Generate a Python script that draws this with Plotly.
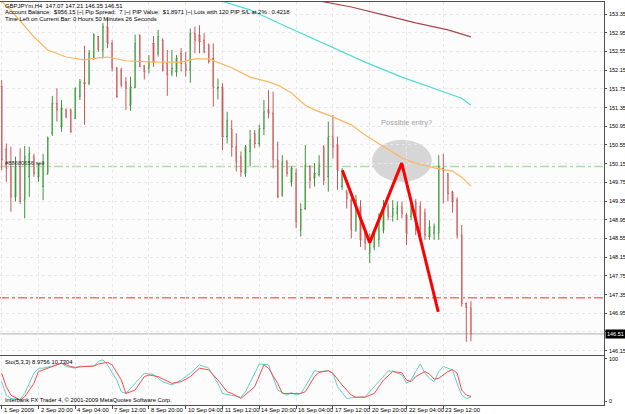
import plotly.graph_objects as go

# ---------------- data ----------------
opens = [151.80, 150.46, 150.09, 149.44, 150.09, 149.37, 149.87, 150.30, 149.87, 149.66,
         149.94, 150.80, 151.44, 150.94, 151.30, 151.30, 151.12, 151.58, 151.87, 151.87,
         152.40, 152.87, 152.58, 153.08, 152.72, 152.19, 152.15, 151.90, 151.40, 151.78,
         152.90, 152.24, 152.19, 152.72, 152.51, 152.79, 152.29, 152.08, 152.12, 152.51,
         152.29, 152.15, 152.94, 152.90, 152.79, 152.69, 152.40, 151.76, 151.78, 150.73,
         150.90, 150.51, 150.30, 149.94, 150.41, 150.80, 150.58, 150.90, 151.30, 151.23,
         150.23, 149.48, 150.19, 149.76, 149.94, 148.73, 149.19, 150.09, 149.84, 149.91,
         150.51, 149.87, 150.73, 150.55, 149.66, 149.55, 149.37, 148.73, 149.23, 148.66,
         148.23, 148.37, 148.52, 148.73, 149.23, 149.02, 149.09, 149.23, 149.05, 149.02,
         149.34, 149.23, 149.09, 148.59, 148.66, 148.66, 150.05, 149.94, 149.55, 149.37,
         148.62, 147.16, 147.07]
highs = [151.94, 150.58, 150.51, 150.30, 150.48, 150.53, 150.51, 150.36, 150.16, 150.36,
         150.73, 151.60, 151.76, 151.51, 151.33, 151.33, 151.78, 151.96, 152.67, 152.58,
         152.94, 152.88, 153.16, 153.26, 152.79, 152.22, 152.20, 152.00, 152.01, 152.91,
         152.91, 152.26, 152.47, 152.88, 153.01, 152.83, 152.58, 152.58, 152.47, 152.62,
         152.54, 153.04, 153.08, 153.11, 152.94, 152.72, 152.72, 151.97, 151.87, 151.26,
         151.08, 150.80, 150.41, 150.55, 150.87, 150.87, 150.98, 151.51, 151.72, 151.69,
         150.62, 150.33, 150.23, 150.09, 150.05, 149.30, 150.55, 150.12, 150.16, 150.33,
         150.55, 151.05, 151.19, 150.73, 150.05, 149.59, 149.41, 149.48, 149.37, 148.73,
         148.66, 148.73, 149.09, 149.37, 149.30, 149.37, 149.34, 149.34, 149.09, 149.37,
         149.39, 149.34, 149.19, 148.94, 148.87, 150.33, 150.36, 149.94, 149.57, 149.43,
         148.84, 147.18, 147.21]
lows = [150.01, 149.76, 149.12, 149.34, 149.29, 148.98, 149.44, 149.87, 149.76, 149.37,
        149.91, 150.74, 151.05, 150.83, 151.12, 150.81, 151.10, 151.51, 150.98, 151.83,
        152.37, 152.54, 152.40, 152.62, 152.12, 151.56, 151.78, 151.30, 151.28, 151.76,
        152.22, 151.95, 152.08, 152.22, 152.44, 152.12, 151.60, 152.02, 152.01, 152.12,
        152.01, 151.88, 152.51, 152.51, 152.51, 152.29, 151.37, 151.52, 150.44, 150.58,
        150.30, 149.98, 149.87, 149.87, 150.09, 150.48, 150.51, 150.76, 151.12, 150.05,
        149.41, 149.44, 149.87, 149.66, 148.77, 148.59, 149.16, 149.62, 149.66, 149.87,
        149.69, 149.55, 150.26, 149.59, 149.59, 149.19, 148.55, 148.69, 148.37, 148.30,
        148.02, 148.30, 148.37, 148.66, 148.94, 148.91, 148.94, 148.98, 148.41, 148.94,
        148.62, 148.45, 148.52, 148.52, 148.52, 148.52, 149.30, 149.34, 149.10, 148.55,
        147.09, 146.34, 146.35]
closes = [150.23, 150.05, 149.44, 150.09, 149.34, 150.30, 150.37, 149.94, 150.12, 150.16,
          150.69, 151.44, 151.30, 151.33, 151.15, 150.83, 151.76, 151.90, 151.87, 152.51,
          152.90, 152.58, 153.08, 152.72, 152.19, 151.58, 151.83, 151.76, 151.78, 152.72,
          152.22, 152.12, 152.33, 152.33, 152.87, 152.15, 152.05, 152.19, 152.40, 152.29,
          152.15, 152.94, 152.79, 152.76, 152.54, 152.33, 151.78, 151.78, 150.73, 151.08,
          150.51, 150.19, 149.98, 150.51, 150.66, 150.58, 150.90, 151.26, 151.23, 150.23,
          149.44, 150.19, 149.94, 150.05, 148.91, 149.17, 150.12, 149.80, 149.94, 150.12,
          149.80, 150.73, 150.51, 150.01, 149.94, 149.41, 148.73, 149.37, 148.52, 148.45,
          148.52, 148.66, 148.94, 149.16, 149.02, 149.19, 149.23, 149.09, 148.66, 149.30,
          148.73, 148.66, 148.62, 148.80, 148.80, 150.09, 150.01, 149.51, 149.34, 148.62,
          147.16, 147.07, 146.51]
bar_idx = list(range(len(opens)))

date_tick_idx = [0, 8, 16, 24, 32, 40, 48, 56, 64, 72, 80, 88, 96]
date_tick_text = ["1 Sep 2009", "2 Sep 20:00", "4 Sep 04:00", "7 Sep 12:00", "8 Sep 20:00",
                  "10 Sep 04:00", "11 Sep 12:00", "14 Sep 20:00", "16 Sep 04:00",
                  "17 Sep 12:00", "20 Sep 20:00", "22 Sep 04:00", "23 Sep 12:00"]
price_ticks = [146.15, 146.95, 147.35, 147.75, 148.15, 148.55, 148.95, 149.35,
               149.75, 150.15, 150.55, 150.95, 151.35, 151.75, 152.15, 152.55, 152.95, 153.35]
price_tick_text = ["146.15", "146.95", "147.35", "147.75", "148.15", "148.55", "148.95",
                   "149.35", "149.75", "150.15", "150.55", "150.95", "151.35", "151.75",
                   "152.15", "152.55", "152.95", "153.35"]
grid_price = [146.55] + price_ticks
sto_ticks = [0, 100]
sto_tick_text = ["0", "100"]

ma_fast_idx = [0, 2, 7, 10, 14, 18, 21, 23, 27, 33, 39, 42, 45, 47, 50, 54, 58, 60, 63, 66,
               68, 72, 76, 79, 82, 87, 90, 94, 98, 100, 102]
ma_fast = [153.62, 153.43, 152.86, 152.58, 152.43, 152.37, 152.41, 152.43, 152.35, 152.32,
           152.32, 152.39, 152.39, 152.32, 152.20, 152.00, 151.90, 151.83, 151.66, 151.40,
           151.30, 151.15, 150.98, 150.76, 150.57, 150.27, 150.16, 150.06, 149.99, 149.86, 149.67]
ma_mid_idx = [46, 54, 61, 66, 72, 79, 87, 94, 98, 100, 102]
ma_mid = [153.68, 153.44, 153.12, 152.90, 152.64, 152.32, 152.00, 151.75, 151.62, 151.55, 151.40]
ma_slow_idx = [69, 76, 83, 90, 97, 102]
ma_slow = [153.63, 153.50, 153.33, 153.16, 153.01, 152.86]

pattern_idx = [74.05, 80.0, 86.96, 94.9]
pattern_price = [150.01, 148.46, 150.16, 146.98]

entry_zone_idx = [80.5, 93.5]
entry_zone_price = [149.76, 150.66]

sell_order_price = 150.09
target_price = 147.28
bid_price = 146.51

sto_k_idx = [0, 1, 2, 4, 5, 7, 8, 9, 11, 13, 14, 16, 17, 18, 20, 21, 22, 23, 25, 26, 27, 29,
             31, 33, 35, 37, 39, 41, 43, 45, 47, 48, 50, 52, 53, 55, 56, 58, 59, 60, 62, 63,
             64, 65, 66, 68, 69, 71, 72, 73, 75, 77, 79, 81, 84, 85, 87, 88, 89, 90, 91, 92,
             93, 94, 95, 96, 98, 99, 100, 101, 102]
sto_k = [46, 14, 6, 4, 18, 66, 78, 78, 83, 90, 82, 78, 83, 82, 83, 94, 98, 86, 50, 22, 18, 42,
         66, 63, 46, 38, 50, 66, 86, 78, 42, 18, 14, 9, 22, 66, 88, 86, 58, 26, 14, 20,
         14, 18, 34, 72, 70, 72, 66, 34, 6, 9, 10, 34, 71, 71, 62, 42, 50, 70, 88, 66,
         54, 46, 70, 82, 74, 42, 14, 6, 8.98]
sto_d_idx = [0, 1, 2, 4, 5, 7, 8, 10, 12, 13, 15, 16, 18, 20, 21, 23, 24, 26, 27, 29, 31, 32,
             34, 37, 39, 41, 43, 45, 47, 49, 50, 52, 55, 57, 58, 60, 61, 63, 65, 66, 68, 69,
             71, 72, 74, 76, 77, 79, 81, 83, 85, 87, 88, 89, 90, 92, 93, 94, 95, 97, 98, 99,
             100, 101, 102]
sto_d = [66, 34, 14, 2, 10, 42, 70, 78, 86, 90, 82, 80, 82, 83, 88, 92, 86, 50, 18, 26, 58, 62,
         58, 42, 46, 58, 78, 74, 50, 22, 18, 6, 34, 86, 78, 42, 18, 18, 18, 22, 58, 68,
         72, 66, 38, 14, 9, 9, 18, 50, 70, 67, 50, 46, 58, 70, 64, 52, 54, 70, 75, 66,
         26, 14, 10.73]

# ---------------- geometry ----------------
W, H = 625, 414
ML, MR, MT, MB = 0, 21, 2, 9
PW = W - ML - MR
PH = H - MT - MB


def fx(px):
    return (px - ML) / PW


def fy(py):
    return (H - MB - py) / PH


GREEN = "#3c963c"
RED = "#c85a5a"
PALE_GREEN = "#b4dcb0"
PALE_RED = "#ebb8b8"
FONT = "Liberation Sans"
NB = "\u00a0"

fig = go.Figure()

# candle bodies (pale) under the bars
body_base = [min(o, c) for o, c in zip(opens, closes)]
body_h = [max(abs(c - o), 0.005) for o, c in zip(opens, closes)]
body_col = [PALE_GREEN if c > o else PALE_RED for o, c in zip(opens, closes)]
fig.add_trace(go.Bar(x=bar_idx, base=body_base, y=body_h, width=0.5,
                     marker=dict(color=body_col, line=dict(width=0)),
                     xaxis="x", yaxis="y", hoverinfo="skip"))
fig.add_trace(go.Ohlc(x=bar_idx, open=opens, high=highs, low=lows, close=closes,
                      increasing=dict(line=dict(color=GREEN, width=1)),
                      decreasing=dict(line=dict(color=RED, width=1)),
                      tickwidth=0.22, xaxis="x", yaxis="y"))

fig.add_trace(go.Scatter(x=ma_fast_idx, y=ma_fast, mode="lines", line=dict(color="#ffb55a", width=1.2),
                         xaxis="x", yaxis="y"))
fig.add_trace(go.Scatter(x=ma_mid_idx, y=ma_mid, mode="lines", line=dict(color="#4fdcd4", width=1.2),
                         xaxis="x", yaxis="y"))
fig.add_trace(go.Scatter(x=ma_slow_idx, y=ma_slow, mode="lines", line=dict(color="#a84848", width=1.2),
                         xaxis="x", yaxis="y"))
fig.add_trace(go.Scatter(x=pattern_idx, y=pattern_price, mode="lines", line=dict(color="#ff0000", width=3),
                         xaxis="x", yaxis="y"))

fig.add_trace(go.Scatter(x=sto_k_idx, y=sto_k, mode="lines", line=dict(color="#5fd0c4", width=1),
                         xaxis="x2", yaxis="y2"))
fig.add_trace(go.Scatter(x=sto_d_idx, y=sto_d, mode="lines", line=dict(color="#ff4a4a", width=1),
                         xaxis="x2", yaxis="y2"))

shapes = [
    dict(type="line", xref="paper", yref="y", x0=0, x1=1, y0=sell_order_price, y1=sell_order_price,
         line=dict(color="#a8e0a0", width=1.5, dash="dashdot"), layer="below"),
    dict(type="line", xref="paper", yref="y", x0=0, x1=1, y0=target_price, y1=target_price,
         line=dict(color="#ff7070", width=1.5, dash="dashdot"), layer="below"),
    dict(type="line", xref="paper", yref="y", x0=0, x1=1, y0=bid_price, y1=bid_price,
         line=dict(color="#c0c0c0", width=1.2), layer="below"),
    dict(type="circle", xref="x", yref="y", x0=entry_zone_idx[0], x1=entry_zone_idx[1],
         y0=entry_zone_price[0], y1=entry_zone_price[1],
         fillcolor="#d6d6d6", line=dict(width=0), layer="below"),
]

ann = []
hdr = ["GBPJPYm,H4" + NB + NB + "147.07 147.21 146.35 146.51",
       "Account Balance:" + NB + NB + "$956.15 |~| Pip Spread:" + NB + NB + "7 |~| PIP Value:" + NB + NB
       + "$1.8971 |~| Lots with 120 PIP S/L at 2% : 0.4218",
       "Time Left on Current Bar: 0 Hours 50 Minutes 26 Seconds"]
for i, t in enumerate(hdr):
    ann.append(dict(text=t, xref="paper", yref="paper", x=fx(3), y=fy(5.5 + 6.6 * i),
                    xanchor="left", yanchor="middle", showarrow=False,
                    font=dict(family=FONT, size=5.9, color="#000000")))
ann.append(dict(text="Possible entry?", xref="paper", yref="paper", x=fx(406), y=fy(122),
                xanchor="center", yanchor="middle", showarrow=False,
                font=dict(family=FONT, size=7.5, color="#a0a0a0")))
ann.append(dict(text="#88680656 sell", xref="paper", yref="paper", x=fx(3), y=fy(163),
                xanchor="left", yanchor="middle", showarrow=False,
                font=dict(family=FONT, size=5.8, color="#303030")))
ann.append(dict(text="Sto(5,3,3) 8.9756 10.7304", xref="paper", yref="paper", x=fx(3), y=fy(361.5),
                xanchor="left", yanchor="middle", showarrow=False,
                font=dict(family=FONT, size=5.8, color="#000000")))
ann.append(dict(text="Interbank FX Trader 4, © 2001-2009 MetaQuotes Software Corp.", xref="paper",
                yref="paper", x=fx(3), y=fy(400), xanchor="left", yanchor="middle", showarrow=False,
                font=dict(family=FONT, size=5.8, color="#000000")))

# axis labels written as text next to the ticks (MT4 style)
for v, t in zip(price_ticks, price_tick_text):
    ann.append(dict(text=t, xref="paper", yref="y", x=fx(606.5), y=v, xanchor="left",
                    yanchor="middle", showarrow=False,
                    font=dict(family=FONT, size=5.5, color="#000000")))
for v, t in zip(sto_ticks, sto_tick_text):
    ann.append(dict(text=t, xref="paper", yref="y2", x=fx(606.5), y=v, xanchor="left",
                    yanchor="middle", showarrow=False,
                    font=dict(family=FONT, size=5.5, color="#000000")))
for v, t in zip(date_tick_idx, date_tick_text):
    ann.append(dict(text=t, xref="x2", yref="paper", x=v, y=fy(409.5), xanchor="left",
                    yanchor="middle", showarrow=False, xshift=0,
                    font=dict(family=FONT, size=5.9, color="#000000")))
ann.append(dict(text="146.51", xref="paper", yref="y", x=fx(605), y=bid_price, xanchor="left",
                yanchor="middle", showarrow=False, bgcolor="#000000", borderpad=1,
                font=dict(family=FONT, size=5.5, color="#ffffff")))

x_range = [-0.37, 130.93]
axis_line = "#505050"
grid = "#ece6ec"

fig.update_layout(
    width=W, height=H, margin=dict(l=ML, r=MR, t=MT, b=MB, autoexpand=False),
    paper_bgcolor="#ffffff", plot_bgcolor="#fdfcfd", showlegend=False,
    bargap=0,
    xaxis=dict(domain=[0, 1], range=x_range, type="linear", anchor="y",
               showticklabels=False, tickvals=date_tick_idx, ticks="",
               showgrid=True, gridcolor=grid, griddash="dot", zeroline=False,
               showline=True, linecolor=axis_line, linewidth=1, mirror=True,
               rangeslider=dict(visible=False), fixedrange=True),
    yaxis=dict(domain=[fy(355), 1], range=[146.057, 153.607], side="right", anchor="x",
               tickvals=grid_price, showticklabels=False, ticks="outside", ticklen=2,
               tickcolor=axis_line,
               showgrid=True, gridcolor=grid, griddash="dot", zeroline=False,
               showline=True, linecolor=axis_line, linewidth=1, mirror=True),
    xaxis2=dict(domain=[0, 1], range=x_range, type="linear", anchor="y2",
                tickvals=date_tick_idx, showticklabels=False, ticks="outside", ticklen=3,
                tickcolor=axis_line,
                showgrid=True, gridcolor=grid, griddash="dot", zeroline=False,
                showline=True, linecolor=axis_line, linewidth=1, mirror=True),
    yaxis2=dict(domain=[0, fy(356)], range=[-9.5, 107], side="right", anchor="x2",
                tickvals=sto_ticks, showticklabels=False, ticks="outside", ticklen=2,
                tickcolor=axis_line, showgrid=False, zeroline=False,
                showline=True, linecolor=axis_line, linewidth=1, mirror=True),
    shapes=shapes, annotations=ann,
)

fig.write_html("out.html")
